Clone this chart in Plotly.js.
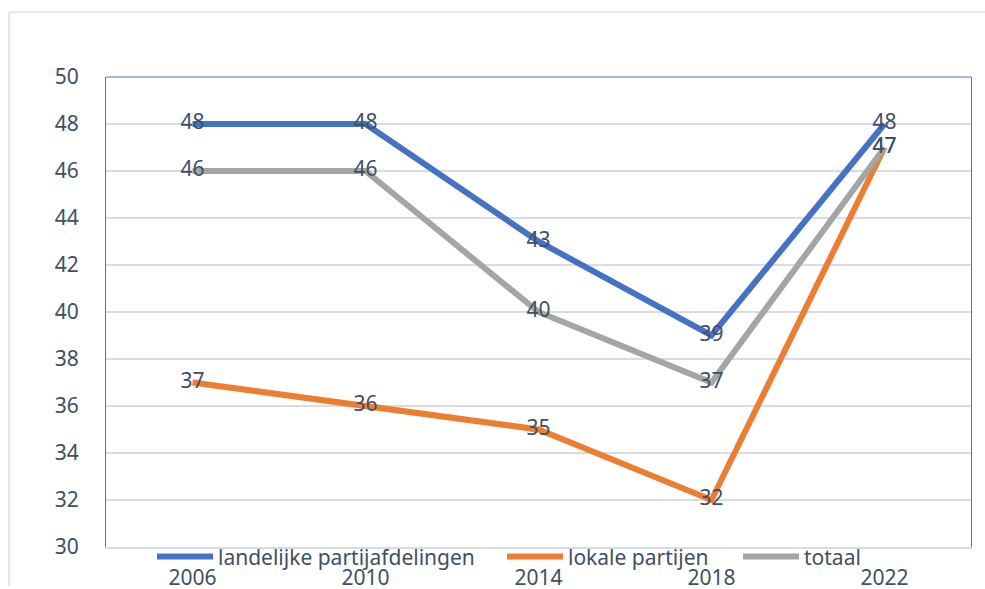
<!DOCTYPE html>
<html>
<head>
<meta charset="utf-8">
<script src="https://cdn.plot.ly/plotly-3.0.1.min.js"></script>
<style>html,body{margin:0;padding:0;background:#fff;}#chart{width:985px;height:589px;}</style>
</head>
<body>
<div id="chart"></div>
<script>
const years = ['2006', '2010', '2014', '2018', '2022'];
const seriesNames = ['landelijke partijafdelingen', 'lokale partijen', 'totaal'];
const landelijke = [48, 48, 43, 39, 48];
const lokale = [37, 36, 35, 32, 47];
const totaal = [46, 46, 40, 37, 47];
const yTicks = [30, 32, 34, 36, 38, 40, 42, 44, 46, 48, 50];

const colors = ['#4472C4', '#ED7D31', '#A5A5A5'];
const textColor = '#404F64';
const fontFam = '"Noto Sans", "Open Sans", sans-serif';
const allSeries = [landelijke, lokale, totaal];
const legendIds = ['legend', 'legend2', 'legend3'];

const traces = allSeries.map((vals, i) => ({
  type: 'scatter',
  mode: 'lines+text',
  x: years,
  y: vals,
  name: seriesNames[i],
  legend: legendIds[i],
  text: vals.map(String),
  textposition: 'middle center',
  textfont: {family: fontFam, size: 21, color: textColor},
  line: {color: colors[i], width: 6},
  cliponaxis: false,
  hoverinfo: 'skip'
}));

const L = 106, R = 14, T = 77, B = 40;
const W = 985 - L - R, H = 589 - T - B;
const px = v => (v - L) / W;
const py = v => (589 - B - v) / H;

function legendAt(xpx) {
  return {
    orientation: 'h', x: px(xpx), xanchor: 'left', y: py(559), yanchor: 'middle',
    bgcolor: 'rgba(0,0,0,0)', borderwidth: 0, itemwidth: 56,
    font: {family: fontFam, size: 21, color: textColor}
  };
}

const layout = {
  width: 985, height: 589,
  margin: {l: L, r: R, t: T, b: B, pad: 0},
  paper_bgcolor: '#ffffff', plot_bgcolor: '#ffffff',
  font: {family: fontFam, size: 21, color: textColor},
  showlegend: true,
  legend: legendAt(152),
  legend2: legendAt(502),
  legend3: legendAt(738),
  xaxis: {
    type: 'category', range: [-0.5, 4.5], showgrid: false, zeroline: false,
    showline: true, linecolor: '#D9DDE3', linewidth: 2,
    ticks: 'outside', ticklen: 11, tickcolor: 'rgba(0,0,0,0)',
    tickfont: {family: fontFam, size: 21, color: textColor}
  },
  yaxis: {
    range: [30, 50], tickvals: yTicks, ticktext: yTicks.map(String),
    showgrid: true, gridcolor: '#D9DDE3', gridwidth: 2, zeroline: false,
    showline: true, mirror: true, linecolor: '#4472C4', linewidth: 1,
    ticks: 'outside', ticklen: 22, tickcolor: 'rgba(0,0,0,0)',
    tickfont: {family: fontFam, size: 21, color: textColor}
  },
  shapes: [
    {type: 'line', xref: 'paper', yref: 'paper', x0: 0, x1: 1, y0: 1, y1: 1, line: {color: '#4472C4', width: 1}},
    {type: 'line', xref: 'paper', yref: 'paper', x0: px(9), x1: px(985), y0: py(12), y1: py(12), line: {color: '#E3E7ED', width: 2}},
    {type: 'line', xref: 'paper', yref: 'paper', x0: px(9), x1: px(9), y0: py(12), y1: py(589), line: {color: '#E3E7ED', width: 2}}
  ]
};

Plotly.newPlot('chart', traces, layout, {displayModeBar: false, staticPlot: true});
</script>
</body>
</html>
